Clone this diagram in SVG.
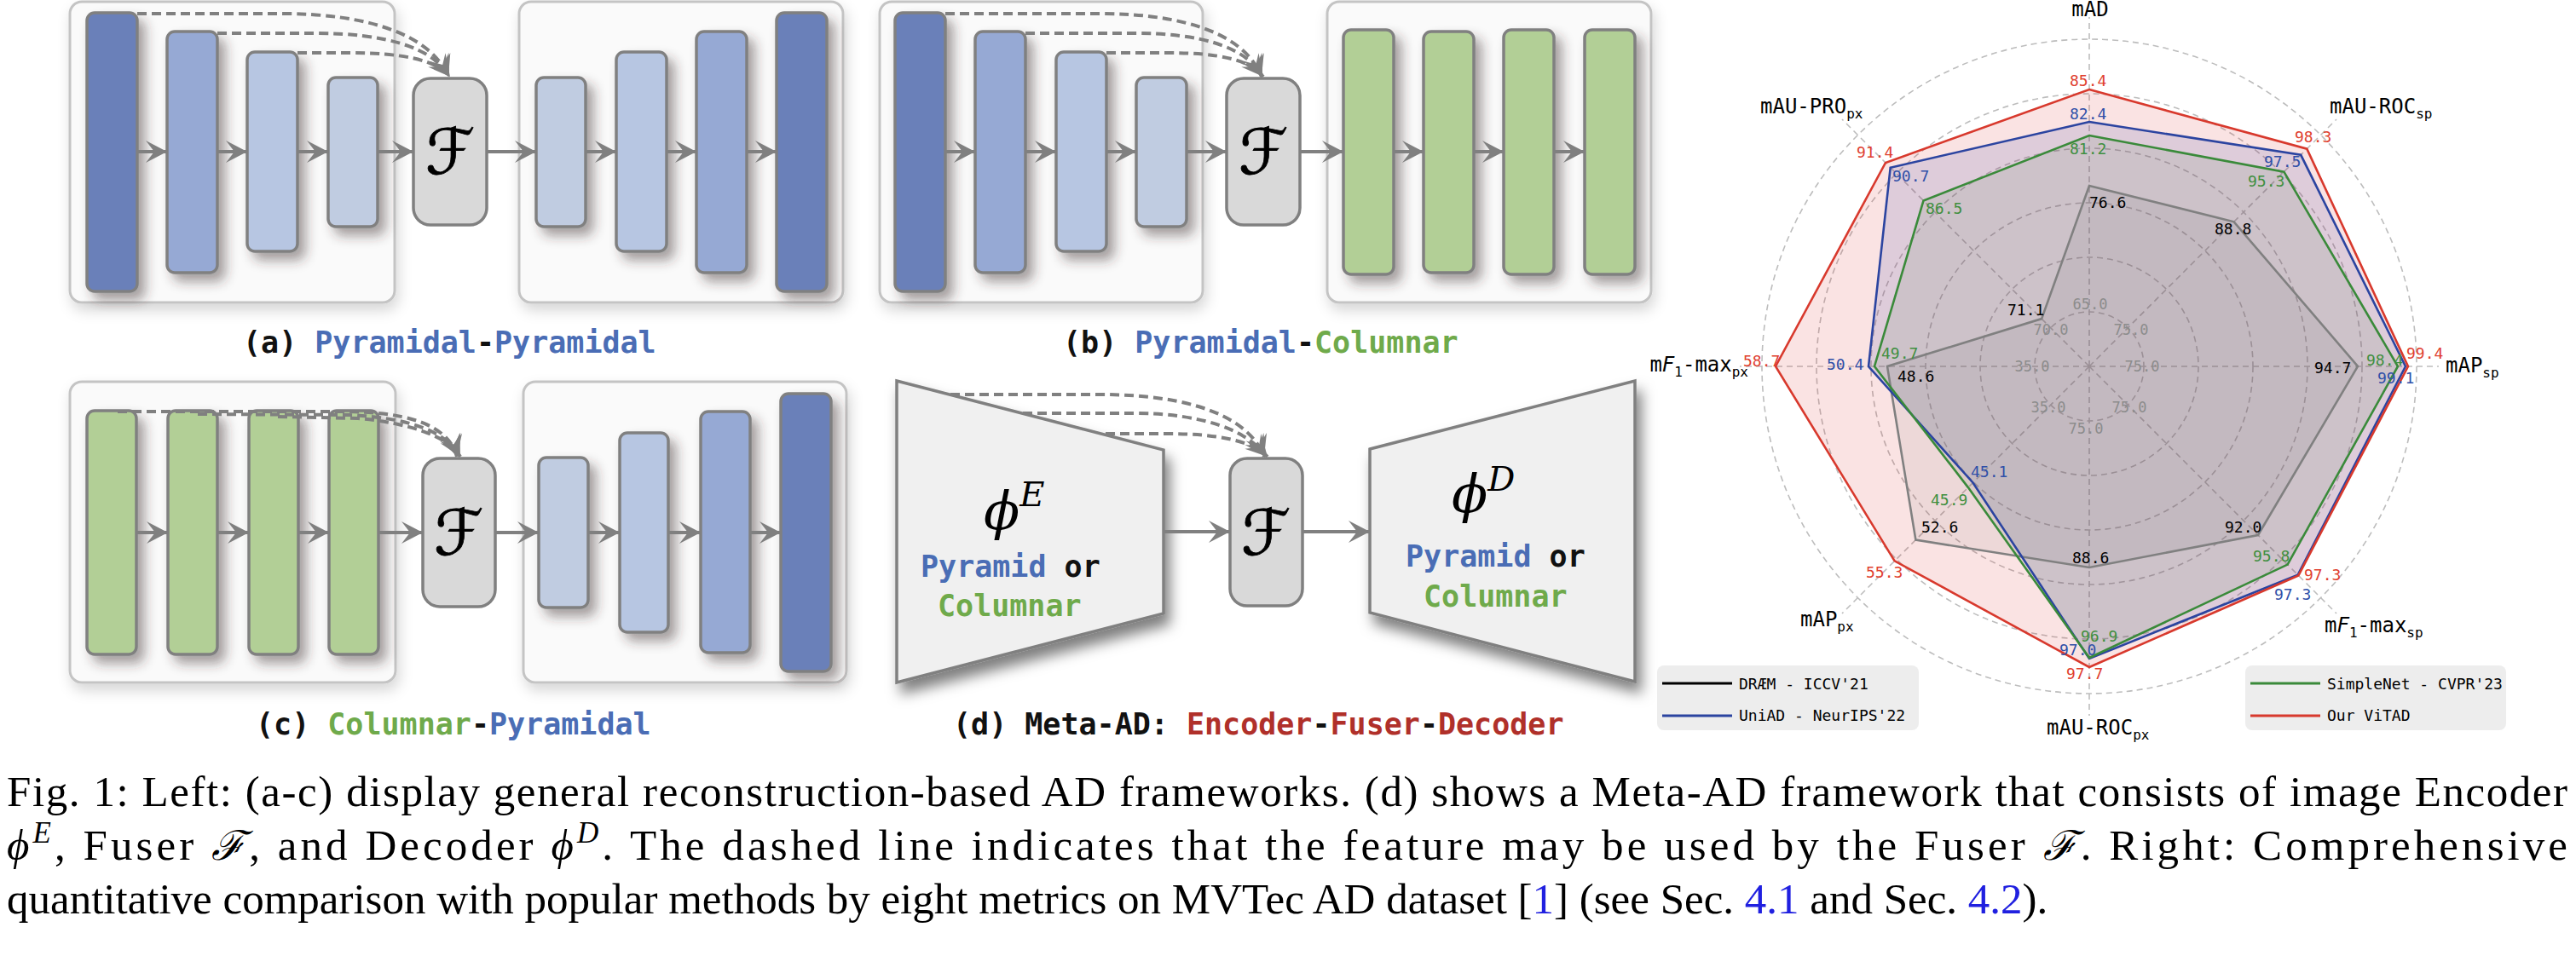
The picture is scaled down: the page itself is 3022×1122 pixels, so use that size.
<svg xmlns="http://www.w3.org/2000/svg" width="3022" height="1122" viewBox="0 0 3022 1122">
<defs>
<style>
.panel{fill:#FAFAFA;stroke:#C4C4C4;stroke-width:3}
.bar{stroke:#808080;stroke-width:3.5}
.c1{fill:#6B80B9}.c2{fill:#96A9D4}.c3{fill:#B7C6E2}.c4{fill:#C0CCE1}.cg{fill:#B2CF96}
.fbox{fill:#D9D9D9;stroke:#808080;stroke-width:3.5}
.fsym{font-family:"DejaVu Serif","DejaVu Sans",serif;font-style:italic;font-size:74px;fill:#000;stroke:#000;stroke-width:0.8}
.trap{fill:#F0F0F0;stroke:#808080;stroke-width:3.5}
.solid{stroke:#808080;stroke-width:4;fill:none}
.dash{stroke:#808080;stroke-width:4;fill:none;stroke-dasharray:11 6}
.lab{font-family:"DejaVu Sans Mono","Liberation Mono",monospace;font-weight:bold;font-size:35px;fill:#111}
.pb{fill:#4A6DB5}.pg{fill:#6FAA4B}.pr{fill:#B0302A}
.greek{font-family:"DejaVu Serif","Liberation Serif",serif;font-style:italic;fill:#000}
.grid{fill:none;stroke:#BDBDBD;stroke-width:1.6;stroke-dasharray:7 5}
.ax{font-family:"DejaVu Sans Mono","Liberation Mono",monospace;font-size:24px;fill:#000}
.sub{font-size:16px}
.val{font-family:"DejaVu Sans Mono","Liberation Mono",monospace;font-size:18px}
.tick{font-family:"DejaVu Sans Mono","Liberation Mono",monospace;font-size:17px;fill:#8C8C8C;text-anchor:middle}
.leg{font-family:"DejaVu Sans Mono","Liberation Mono",monospace;font-size:18px;fill:#000}
.cap{font-family:"Liberation Serif","Times New Roman",serif;font-size:51px;fill:#000}
.lnk{fill:#2020E0}
</style>
<filter id="shBar" x="-40%" y="-20%" width="200%" height="150%"><feDropShadow dx="8" dy="9" stdDeviation="7" flood-color="#3a2a2a" flood-opacity="0.45"/></filter>
<filter id="shBox" x="-10%" y="-10%" width="130%" height="130%"><feDropShadow dx="3" dy="8" stdDeviation="8" flood-color="#000" flood-opacity="0.16"/></filter>
<filter id="shTrap" x="-20%" y="-20%" width="150%" height="150%"><feDropShadow dx="6" dy="12" stdDeviation="8" flood-color="#000" flood-opacity="0.5"/></filter>
<marker id="ah" viewBox="0 0 28 28" refX="26" refY="14" markerWidth="28" markerHeight="28" markerUnits="userSpaceOnUse" orient="auto"><path d="M26,14 L1,1 L11,14 L1,27 Z" fill="#808080"/></marker>
</defs>
<rect width="3022" height="1122" fill="#FFFFFF"/>

<!-- Panel (a) -->
<g id="panel-a">
<rect class="panel" filter="url(#shBox)" x="82" y="2" width="381" height="353" rx="14"/>
<rect class="panel" filter="url(#shBox)" x="609" y="2" width="380" height="353" rx="14"/>
<g id="a-enc" filter="url(#shBar)">
<rect class="bar c1" x="102" y="15" width="59" height="327" rx="9"/>
<rect class="bar c2" x="196" y="37" width="59" height="283" rx="9"/>
<rect class="bar c3" x="290" y="61" width="59" height="234" rx="9"/>
<rect class="bar c4" x="385" y="91" width="58" height="175" rx="9"/>
</g>
<g id="a-fuser"><rect class="fbox" x="485" y="92" width="86" height="172" rx="20"/><text class="fsym" x="528" y="204" text-anchor="middle">ℱ</text></g>
<g id="a-dec" filter="url(#shBar)">
<rect class="bar c4" x="629" y="91" width="58" height="175" rx="9"/>
<rect class="bar c3" x="723" y="61" width="59" height="234" rx="9"/>
<rect class="bar c2" x="817" y="37" width="59" height="283" rx="9"/>
<rect class="bar c1" x="911" y="15" width="59" height="327" rx="9"/>
</g>
<text class="lab" x="285" y="414">(a) <tspan class="pb">Pyramidal</tspan>-<tspan class="pb">Pyramidal</tspan></text>
</g>

<!-- Panel (b) -->
<g id="panel-b">
<rect class="panel" filter="url(#shBox)" x="1032" y="2" width="379" height="353" rx="14"/>
<rect class="panel" filter="url(#shBox)" x="1557" y="2" width="380" height="353" rx="14"/>
<g id="b-enc" filter="url(#shBar)">
<rect class="bar c1" x="1050" y="15" width="59" height="327" rx="9"/>
<rect class="bar c2" x="1144" y="37" width="59" height="283" rx="9"/>
<rect class="bar c3" x="1239" y="61" width="59" height="234" rx="9"/>
<rect class="bar c4" x="1333" y="91" width="59" height="175" rx="9"/>
</g>
<g id="b-fuser"><rect class="fbox" x="1439" y="92" width="86" height="172" rx="20"/><text class="fsym" x="1482" y="204" text-anchor="middle">ℱ</text></g>
<g id="b-dec" filter="url(#shBar)">
<rect class="bar cg" x="1576" y="35" width="59" height="287" rx="9"/>
<rect class="bar cg" x="1670" y="37" width="59" height="283" rx="9"/>
<rect class="bar cg" x="1764" y="35" width="59" height="287" rx="9"/>
<rect class="bar cg" x="1859" y="35" width="59" height="287" rx="9"/>
</g>
<text class="lab" x="1247" y="414">(b) <tspan class="pb">Pyramidal</tspan>-<tspan class="pg">Columnar</tspan></text>
</g>

<!-- Panel (c) -->
<g id="panel-c">
<rect class="panel" filter="url(#shBox)" x="82" y="448" width="382" height="353" rx="14"/>
<rect class="panel" filter="url(#shBox)" x="614" y="448" width="379" height="353" rx="14"/>
<g id="c-enc" filter="url(#shBar)">
<rect class="bar cg" x="102" y="482" width="58" height="286" rx="9"/>
<rect class="bar cg" x="197" y="482" width="58" height="286" rx="9"/>
<rect class="bar cg" x="292" y="482" width="58" height="286" rx="9"/>
<rect class="bar cg" x="386" y="482" width="58" height="286" rx="9"/>
</g>
<g id="c-fuser"><rect class="fbox" x="496" y="538" width="85" height="174" rx="20"/><text class="fsym" x="538" y="651" text-anchor="middle">ℱ</text></g>
<g id="c-dec" filter="url(#shBar)">
<rect class="bar c4" x="632" y="537" width="58" height="176" rx="9"/>
<rect class="bar c3" x="727" y="508" width="57" height="234" rx="9"/>
<rect class="bar c2" x="822" y="483" width="58" height="283" rx="9"/>
<rect class="bar c1" x="916" y="462" width="59" height="326" rx="9"/>
</g>
<text class="lab" x="300" y="862">(c) <tspan class="pg">Columnar</tspan>-<tspan class="pb">Pyramidal</tspan></text>
</g>

<!-- Panel (d) -->
<g id="panel-d">
<g id="d-enc">
<polygon class="trap" filter="url(#shTrap)" points="1052,447 1365,528 1365,720 1052,801"/>
<text class="greek" x="1154" y="621" font-size="62">ϕ<tspan font-size="40" dy="-27">E</tspan></text>
<text class="lab" x="1080" y="677"><tspan class="pb">Pyramid</tspan> or</text>
<text class="lab pg" x="1100" y="723">Columnar</text>
</g>
<g id="d-fuser"><rect class="fbox" x="1443" y="538" width="85" height="173" rx="20"/><text class="fsym" x="1485" y="651" text-anchor="middle">ℱ</text></g>
<g id="d-dec">
<polygon class="trap" filter="url(#shTrap)" points="1607,527 1918,447 1918,800 1607,719"/>
<text class="greek" x="1703" y="601" font-size="62">ϕ<tspan font-size="40" dy="-25">D</tspan></text>
<text class="lab" x="1649" y="665"><tspan class="pb">Pyramid</tspan> or</text>
<text class="lab pg" x="1670" y="712">Columnar</text>
</g>
<text class="lab" x="1118" y="862">(d) Meta-AD: <tspan class="pr">Encoder</tspan>-<tspan class="pr">Fuser</tspan>-<tspan class="pr">Decoder</tspan></text>
</g>

<!-- Connectors -->
<g id="connectors">
<path class="solid" marker-end="url(#ah)" d="M161,178 H196"/>
<path class="solid" marker-end="url(#ah)" d="M255,178 H290"/>
<path class="solid" marker-end="url(#ah)" d="M349,178 H385"/>
<path class="solid" marker-end="url(#ah)" d="M443,178 H485"/>
<path class="solid" marker-end="url(#ah)" d="M571,178 H629"/>
<path class="solid" marker-end="url(#ah)" d="M687,178 H723"/>
<path class="solid" marker-end="url(#ah)" d="M782,178 H817"/>
<path class="solid" marker-end="url(#ah)" d="M876,178 H911"/>
<path class="dash" marker-end="url(#ah)" d="M161,16 L330,16 C430,16 505,40 526,90"/>
<path class="dash" marker-end="url(#ah)" d="M255,39 L370,39 C450,39 508,55 527,90"/>
<path class="dash" marker-end="url(#ah)" d="M349,62 L410,62 C470,62 512,70 528,90"/>

<path class="solid" marker-end="url(#ah)" d="M1109,178 H1144"/>
<path class="solid" marker-end="url(#ah)" d="M1203,178 H1239"/>
<path class="solid" marker-end="url(#ah)" d="M1298,178 H1333"/>
<path class="solid" marker-end="url(#ah)" d="M1392,178 H1439"/>
<path class="solid" marker-end="url(#ah)" d="M1525,178 H1576"/>
<path class="solid" marker-end="url(#ah)" d="M1635,178 H1670"/>
<path class="solid" marker-end="url(#ah)" d="M1729,178 H1764"/>
<path class="solid" marker-end="url(#ah)" d="M1823,178 H1859"/>
<path class="dash" marker-end="url(#ah)" d="M1109,16 L1290,16 C1390,16 1460,40 1480,90"/>
<path class="dash" marker-end="url(#ah)" d="M1203,39 L1330,39 C1410,39 1462,55 1481,90"/>
<path class="dash" marker-end="url(#ah)" d="M1298,62 L1370,62 C1430,62 1466,70 1482,90"/>

<path class="solid" marker-end="url(#ah)" d="M160,625 H197"/>
<path class="solid" marker-end="url(#ah)" d="M255,625 H292"/>
<path class="solid" marker-end="url(#ah)" d="M350,625 H386"/>
<path class="solid" marker-end="url(#ah)" d="M444,625 H496"/>
<path class="solid" marker-end="url(#ah)" d="M581,625 H632"/>
<path class="solid" marker-end="url(#ah)" d="M690,625 H727"/>
<path class="solid" marker-end="url(#ah)" d="M784,625 H822"/>
<path class="solid" marker-end="url(#ah)" d="M880,625 H916"/>
<path class="dash" marker-end="url(#ah)" d="M138,483 L400,483 C470,483 525,495 536,536"/>
<path class="dash" marker-end="url(#ah)" d="M232,486 L410,487 C475,490 525,505 538,536"/>
<path class="dash" marker-end="url(#ah)" d="M326,489 L420,491 C478,496 527,512 540,536"/>

<path class="solid" marker-end="url(#ah)" d="M1365,624 H1443"/>
<path class="solid" marker-end="url(#ah)" d="M1528,624 H1607"/>
<path class="dash" marker-end="url(#ah)" d="M1115,463 L1290,463 C1400,463 1465,490 1483,536"/>
<path class="dash" marker-end="url(#ah)" d="M1200,485 L1330,485 C1410,485 1465,505 1485,536"/>
<path class="dash" marker-end="url(#ah)" d="M1297,509 L1370,509 C1430,509 1470,518 1487,536"/>
</g>

<!-- Radar chart -->
<g id="radar">
<g id="radar-grid">
<circle class="grid" cx="2451" cy="430" r="64"/>
<circle class="grid" cx="2451" cy="430" r="128"/>
<circle class="grid" cx="2451" cy="430" r="192"/>
<circle class="grid" cx="2451" cy="430" r="256"/>
<circle class="grid" cx="2451" cy="430" r="320"/>
<circle class="grid" cx="2451" cy="430" r="384"/>
<path class="grid" d="M2451,430 V20 M2451,430 V840 M2451,430 H2041 M2451,430 H2861 M2451,430 L2161,140 M2451,430 L2741,140 M2451,430 L2161,720 M2451,430 L2741,720"/>
</g>
<g id="radar-fills">
<polygon fill="#D62728" fill-opacity="0.13" points="2451,105 2706.3,174.7 2825,430 2696.4,675.4 2451,783 2222.6,658.4 2083,430 2212,191"/>
<polygon fill="#3A3FA0" fill-opacity="0.14" points="2451,143 2699.2,181.8 2822,430 2695.7,674.7 2451,773 2314.5,566.5 2192,430 2217.7,196.7"/>
<polygon fill="#3A6A3A" fill-opacity="0.1" points="2451,159 2679.4,201.6 2813,430 2683.6,662.6 2451,772 2308.9,572.1 2199,430 2256.5,235.5"/>
<polygon fill="#555555" fill-opacity="0.08" points="2451,218 2620.7,260.3 2766,430 2649,628 2451,666 2247.4,633.6 2214,430 2395.1,374.1"/>
</g>
<g id="radar-lines" fill="none" stroke-width="2.6" stroke-linejoin="miter">
<polygon stroke="#808080" points="2451,218 2620.7,260.3 2766,430 2649,628 2451,666 2247.4,633.6 2214,430 2395.1,374.1"/>
<polygon stroke="#2B44A0" points="2451,143 2699.2,181.8 2822,430 2695.7,674.7 2451,773 2314.5,566.5 2192,430 2217.7,196.7"/>
<polygon stroke="#3A8A3A" points="2451,159 2679.4,201.6 2813,430 2683.6,662.6 2451,772 2308.9,572.1 2199,430 2256.5,235.5"/>
<polygon stroke="#D8392D" points="2451,105 2706.3,174.7 2825,430 2696.4,675.4 2451,783 2222.6,658.4 2083,430 2212,191"/>
</g>
<g id="radar-ticks">
<text class="tick" x="2452" y="363">65.0</text>
<text class="tick" x="2406" y="393">70.0</text>
<text class="tick" x="2500" y="393">75.0</text>
<text class="tick" x="2384" y="436">35.0</text>
<text class="tick" x="2513" y="436">75.0</text>
<text class="tick" x="2403" y="484">35.0</text>
<text class="tick" x="2498" y="484">75.0</text>
<text class="tick" x="2447" y="509">75.0</text>
</g>
<g id="radar-values" class="val">
<text x="2428" y="101" fill="#E0402F">85.4</text>
<text x="2428" y="140" fill="#3050A8">82.4</text>
<text x="2428" y="181" fill="#3F8F3F">81.2</text>
<text x="2451" y="244" fill="#000">76.6</text>
<text x="2178" y="185" fill="#E0402F">91.4</text>
<text x="2220" y="213" fill="#3050A8">90.7</text>
<text x="2259" y="251" fill="#3F8F3F">86.5</text>
<text x="2355" y="370" fill="#000">71.1</text>
<text x="2045" y="430" fill="#E0402F">58.7</text>
<text x="2143" y="434" fill="#3050A8">50.4</text>
<text x="2207" y="421" fill="#3F8F3F">49.7</text>
<text x="2226" y="448" fill="#000">48.6</text>
<text x="2189" y="678" fill="#E0402F">55.3</text>
<text x="2254" y="625" fill="#000">52.6</text>
<text x="2265" y="593" fill="#3F8F3F">45.9</text>
<text x="2312" y="560" fill="#3050A8">45.1</text>
<text x="2424" y="797" fill="#E0402F">97.7</text>
<text x="2416" y="769" fill="#3050A8">97.0</text>
<text x="2441" y="753" fill="#3F8F3F">96.9</text>
<text x="2431" y="661" fill="#000">88.6</text>
<text x="2703" y="681" fill="#E0402F">97.3</text>
<text x="2668" y="704" fill="#3050A8">97.3</text>
<text x="2643" y="659" fill="#3F8F3F">95.8</text>
<text x="2610" y="625" fill="#000">92.0</text>
<text x="2823" y="421" fill="#E0402F">99.4</text>
<text x="2776" y="429" fill="#3F8F3F">98.4</text>
<text x="2789" y="450" fill="#3050A8">99.1</text>
<text x="2715" y="438" fill="#000">94.7</text>
<text x="2692" y="167" fill="#E0402F">98.3</text>
<text x="2656" y="196" fill="#3050A8">97.5</text>
<text x="2637" y="219" fill="#3F8F3F">95.3</text>
<text x="2598" y="275" fill="#000">88.8</text>
</g>
<g id="radar-axes-labels" class="ax">
<text x="2452" y="19" text-anchor="middle">mAD</text>
<text x="2733" y="133">mAU-ROC<tspan class="sub" dy="6">sp</tspan></text>
<text x="2869" y="437">mAP<tspan class="sub" dy="6">sp</tspan></text>
<text x="2727" y="742">m<tspan font-style="italic">F</tspan><tspan class="sub" dy="6">1</tspan><tspan dy="-6">-max</tspan><tspan class="sub" dy="6">sp</tspan></text>
<text x="2401" y="862">mAU-ROC<tspan class="sub" dy="6">px</tspan></text>
<text x="2112" y="735">mAP<tspan class="sub" dy="6">px</tspan></text>
<text x="2051" y="436" text-anchor="end">m<tspan font-style="italic">F</tspan><tspan class="sub" dy="6">1</tspan><tspan dy="-6">-max</tspan><tspan class="sub" dy="6">px</tspan></text>
<text x="2065" y="133">mAU-PRO<tspan class="sub" dy="6">px</tspan></text>
</g>
<g id="legend-left">
<rect x="1944" y="781" width="307" height="76" rx="8" fill="#EBEBEB" fill-opacity="0.9"/>
<line x1="1950" y1="802" x2="2032" y2="802" stroke="#000" stroke-width="3"/>
<line x1="1950" y1="840" x2="2032" y2="840" stroke="#2B44A0" stroke-width="3"/>
<text class="leg" x="2040" y="809">DRÆM - ICCV'21</text>
<text class="leg" x="2040" y="846">UniAD - NeurIPS'22</text>
</g>
<g id="legend-right">
<rect x="2634" y="781" width="306" height="76" rx="8" fill="#EBEBEB" fill-opacity="0.9"/>
<line x1="2640" y1="802" x2="2722" y2="802" stroke="#3A8A3A" stroke-width="3"/>
<line x1="2640" y1="840" x2="2722" y2="840" stroke="#D8392D" stroke-width="3"/>
<text class="leg" x="2730" y="809">SimpleNet - CVPR'23</text>
<text class="leg" x="2730" y="846">Our ViTAD</text>
</g>
</g>

<!-- Caption -->
<g id="caption" class="cap">
<text x="8" y="946" textLength="3004" lengthAdjust="spacing">Fig. 1: Left: (a-c) display general reconstruction-based AD frameworks. (d) shows a Meta-AD framework that consists of image Encoder</text>
<text x="8" y="1009" textLength="3004" lengthAdjust="spacing"><tspan font-style="italic">ϕ</tspan><tspan font-style="italic" font-size="35" dy="-20">E</tspan><tspan dy="20">, Fuser </tspan><tspan font-family="DejaVu Serif,serif" font-style="italic" font-size="48">ℱ</tspan>, and Decoder <tspan font-style="italic">ϕ</tspan><tspan font-style="italic" font-size="35" dy="-20">D</tspan><tspan dy="20">. The dashed line indicates that the feature may be used by the Fuser </tspan><tspan font-family="DejaVu Serif,serif" font-style="italic" font-size="48">ℱ</tspan>. Right: Comprehensive</text>
<text x="8" y="1072">quantitative comparison with popular methods by eight metrics on MVTec AD dataset [<tspan class="lnk">1</tspan>] (see Sec. <tspan class="lnk">4.1</tspan> and Sec. <tspan class="lnk">4.2</tspan>).</text>
</g>
</svg>
